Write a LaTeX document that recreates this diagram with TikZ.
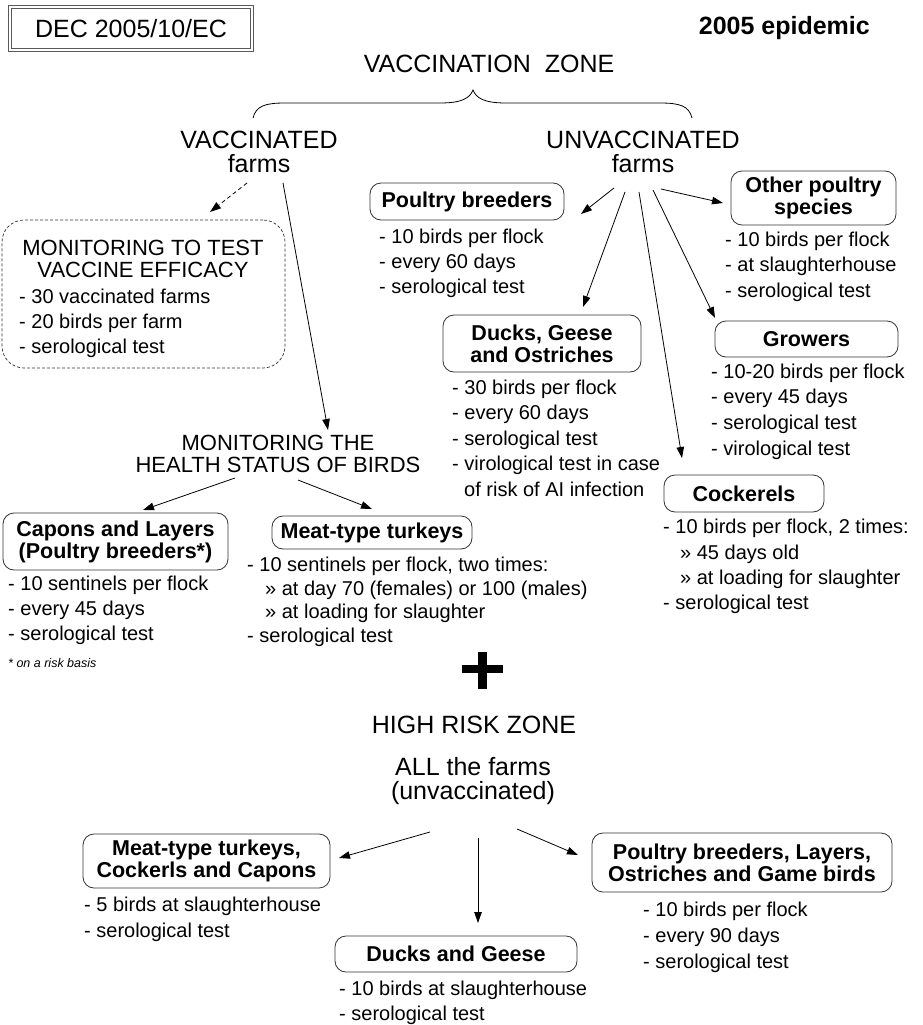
\documentclass[tikz,border=0pt]{standalone}
\usepackage{fontspec}
\setmainfont{Liberation Sans}
\usetikzlibrary{arrows.meta}
\newcommand\blines[6]{\foreach \t [count=\i] in {#6} {\node[#1] (#2-\i) at (#3,{#4+(\i-1)*#5}) {\t};}}
\begin{document}
\begin{tikzpicture}[x=1pt,y=-1pt,
  box/.style={draw=black!80, line width=0.8pt, rounded corners=11pt, inner sep=0pt, align=center, font=\fontsize{21.5}{22}\selectfont\bfseries},
  txt/.style={anchor=base west, inner sep=0pt, font=\fontsize{20}{24}\selectfont},
  ttl/.style={anchor=base, inner sep=0pt, font=\fontsize{25}{26}\selectfont},
  mid/.style={anchor=base, inner sep=0pt, font=\fontsize{22}{22}\selectfont},
  arr/.style={draw, line width=0.8pt, -{Triangle[length=11pt,width=7.5pt]}},
]
\useasboundingbox (0,0) rectangle (922,1025);
\fill[white] (0,0) rectangle (922,1025);

% header
\node[draw=black!65, double, double distance=2.2pt, line width=0.7pt, minimum width=242pt, minimum height=43pt, inner sep=0pt, font=\fontsize{25}{26}\selectfont] (dec) at (131,28.5) {DEC 2005/10/EC};
\node[anchor=base east, inner sep=0pt, font=\fontsize{25}{26}\selectfont\bfseries] (epi) at (870,35) {2005 epidemic};
\node[ttl] (vz) at (489,73) {VACCINATION\ \ ZONE};

% brace
\draw[line width=0.8pt] (253,118) .. controls (256,106) and (265,103) .. (285,103) -- (440,103) .. controls (462,103) and (470,98) .. (473,90) .. controls (476,98) and (484,103) .. (506,103) -- (660,103) .. controls (680,103) and (689,106) .. (692,118);

\blines{ttl}{vac}{259}{148}{24}{VACCINATED,farms}
\blines{ttl}{unv}{643}{148}{24}{UNVACCINATED,farms}

% vaccine efficacy
\node[draw=black!80, dash pattern=on 3pt off 2pt, line width=0.7pt, rounded corners=22pt, minimum width=283pt, minimum height=148pt] (eff) at (143.5,294) {};
\blines{mid}{efft}{143}{255}{22}{MONITORING TO TEST,VACCINE EFFICACY}
\blines{txt}{effl}{19}{303}{25}{- 30 vaccinated farms,- 20 birds per farm,- serological test}

% health status
\blines{mid}{mhs}{278}{450}{22}{MONITORING THE,HEALTH STATUS OF BIRDS}

% unvaccinated branches
\node[box, minimum width=194pt, minimum height=37pt] (pb) at (467,201.5) {Poultry breeders};
\blines{txt}{pbl}{379}{243}{25.3}{- 10 birds per flock,- every 60 days,- serological test}

\node[box, minimum width=165pt, minimum height=54pt] (op) at (813.5,198) {Other poultry\\species};
\blines{txt}{opl}{725}{246}{25.5}{- 10 birds per flock,- at slaughterhouse,- serological test}

\node[box, minimum width=198pt, minimum height=57pt] (dg) at (542,343.5) {Ducks, Geese\\and Ostriches};
\blines{txt}{dgl}{452}{394}{25.5}{- 30 birds per flock,- every 60 days,- serological test,- virological test in case}
\node[txt] (dgx) at (464,496) {of risk of AI infection};

\node[box, minimum width=183pt, minimum height=36pt] (gr) at (806.5,339) {Growers};
\blines{txt}{grl}{711}{378}{25.7}{- 10-20 birds per flock,- every 45 days,- serological test,- virological test}

\node[box, minimum width=160pt, minimum height=37pt] (ck) at (744,493.5) {Cockerels};
\node[txt] (cka) at (663,533) {- 10 birds per flock, 2 times:};
\blines{txt}{ckm}{680}{559}{25}{» 45 days old,» at loading for slaughter}
\node[txt] (ckb) at (663,609) {- serological test};

% vaccinated branches
\node[box, minimum width=225pt, minimum height=57pt] (cl) at (115.5,541.5) {Capons and Layers\\(Poultry breeders*)};
\blines{txt}{cll}{8}{590}{25}{- 10 sentinels per flock,- every 45 days,- serological test}
\node[anchor=base west, inner sep=0pt, font=\fontsize{12.5}{13}\selectfont\itshape] (fn) at (8,667) {* on a risk basis};

\node[box, minimum width=200pt, minimum height=33pt] (mt) at (372,532.5) {Meat-type turkeys};
\node[txt] (mtl1) at (247,571) {- 10 sentinels per flock, two times:};
\node[txt] (mtl2) at (265,595) {» at day 70 (females) or 100 (males)};
\node[txt] (mtl3) at (265,618) {» at loading for slaughter};
\node[txt] (mtl4) at (247,642) {- serological test};

% plus
\fill (462,665) rectangle (503,673);
\fill (478,652) rectangle (487,689);

% high risk zone
\node[ttl] (hrz) at (474,733) {HIGH RISK ZONE};
\blines{ttl}{all}{473}{775}{24}{ALL the farms,{(unvaccinated)}}

\node[box, minimum width=247pt, minimum height=54pt] (bl) at (206.5,861) {Meat-type turkeys,\\Cockerls and Capons};
\blines{txt}{bll}{84}{911}{26}{- 5 birds at slaughterhouse,- serological test}
\node[box, minimum width=242pt, minimum height=36pt] (bd) at (456,954) {Ducks and Geese};
\blines{txt}{bdl}{339}{995}{25}{- 10 birds at slaughterhouse,- serological test}
\node[box, minimum width=300pt, minimum height=59pt] (br) at (742,862.5) {Poultry breeders, Layers,\\Ostriches and Game birds};
\blines{txt}{brl}{643}{916}{26}{- 10 birds per flock,- every 90 days,- serological test}

% connector end points
\coordinate (v1) at (247,183); \coordinate (v1e) at (210,212);
\coordinate (v2) at (283,183); \coordinate (v2e) at (328,430);
\coordinate (h1) at (235,478); \coordinate (h1e) at (143,510);
\coordinate (h2) at (298,480); \coordinate (h2e) at (372,509);
\coordinate (u1) at (614,188); \coordinate (u1e) at (581,214);
\coordinate (u2) at (625,192); \coordinate (u2e) at (583,307);
\coordinate (u3) at (639,192); \coordinate (u3e) at (682,458);
\coordinate (u4) at (653,190); \coordinate (u4e) at (715,318);
\coordinate (u5) at (661,189); \coordinate (u5e) at (723,203);
\coordinate (a1) at (430,832); \coordinate (a1e) at (339,858);
\coordinate (a2) at (478,838); \coordinate (a2e) at (478,923);
\coordinate (a3) at (517,829); \coordinate (a3e) at (578,855);

\draw[arr, dash pattern=on 4pt off 3pt] (v1) -- (v1e);
\draw[arr] (v2) -- (v2e);
\draw[arr] (h1) -- (h1e);
\draw[arr] (h2) -- (h2e);
\draw[arr] (u1) -- (u1e);
\draw[arr] (u2) -- (u2e);
\draw[arr] (u3) -- (u3e);
\draw[arr] (u4) -- (u4e);
\draw[arr] (u5) -- (u5e);
\draw[arr] (a1) -- (a1e);
\draw[arr] (a2) -- (a2e);
\draw[arr] (a3) -- (a3e);
\end{tikzpicture}
\end{document}
